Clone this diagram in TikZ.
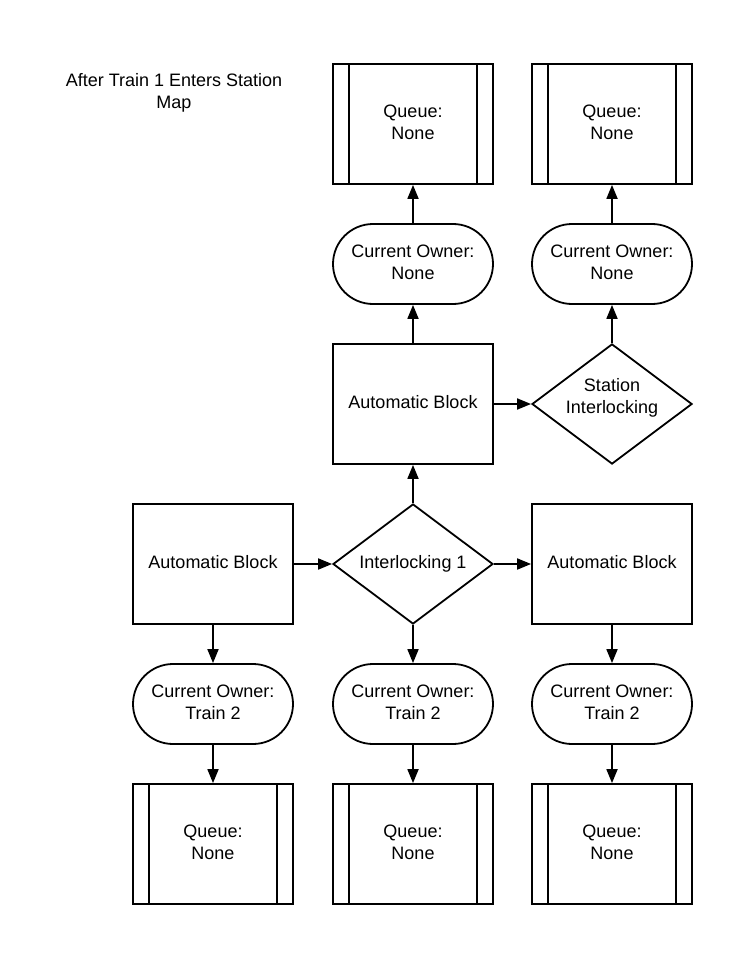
\documentclass[tikz,border=0pt]{standalone}
\usepackage{fontspec}
\setmainfont{Liberation Sans}
\usetikzlibrary{arrows.meta,shapes.geometric,shapes.misc}

\tikzset{
  every node/.style={font=\fontsize{18}{22}\selectfont, align=center},
  blk/.style={draw, rectangle, minimum width=160pt, minimum height=120pt, inner sep=0pt, text depth=4pt},
  queue/.style={blk, path picture={
      \draw ([xshift=16pt]path picture bounding box.north west) -- ([xshift=16pt]path picture bounding box.south west);
      \draw ([xshift=-16pt]path picture bounding box.north east) -- ([xshift=-16pt]path picture bounding box.south east);}},
  owner/.style={draw, rounded rectangle, minimum width=160pt, minimum height=80pt, inner sep=0pt, text depth=4pt},
  ilk/.style={draw, diamond, aspect=1.333, minimum width=160pt, minimum height=120pt, inner sep=0pt},
}

\begin{document}
\begin{tikzpicture}[x=1pt,y=-1pt,line width=1.8pt,>={Triangle[length=14pt,width=11pt]}]
    \useasboundingbox (0,0) rectangle (746,968);

    \node (title) at (174,93) {After Train 1 Enters Station\\Map};

    % top part
    \node[queue] (queue_mid) at (413,124) {Queue:\\None};
    \node[queue] (queue_stn) at (612,124) {Queue:\\None};
    \node[owner] (owner_mid) at (413,264) {Current Owner:\\None};
    \node[owner] (owner_stn) at (612,264) {Current Owner:\\None};
    \node[blk] (block_mid) at (413,404) {Automatic Block};
    \node[ilk, text depth=16pt] (station) at (612,404) {Station\\Interlocking};

    % bottom part
    \node[blk] (block_left) at (213,564) {Automatic Block};
    \node[ilk] (ilk_one) at (413,564) {Interlocking 1};
    \node[blk] (block_right) at (612,564) {Automatic Block};
    \node[owner] (owner_left) at (213,704) {Current Owner:\\Train 2};
    \node[owner] (owner_one) at (413,704) {Current Owner:\\Train 2};
    \node[owner] (owner_right) at (612,704) {Current Owner:\\Train 2};
    \node[queue] (queue_left) at (213,844) {Queue:\\None};
    \node[queue] (queue_one) at (413,844) {Queue:\\None};
    \node[queue] (queue_right) at (612,844) {Queue:\\None};

    \draw[->] (owner_mid) -- (queue_mid);
    \draw[->] (owner_stn) -- (queue_stn);
    \draw[->] (block_mid) -- (owner_mid);
    \draw[->] (station) -- (owner_stn);
    \draw[->] (block_mid) -- (station);
    \draw[->] (ilk_one) -- (block_mid);
    \draw[->] (block_left) -- (ilk_one);
    \draw[->] (ilk_one) -- (block_right);
    \draw[->] (block_left) -- (owner_left);
    \draw[->] (ilk_one) -- (owner_one);
    \draw[->] (block_right) -- (owner_right);
    \draw[->] (owner_left) -- (queue_left);
    \draw[->] (owner_one) -- (queue_one);
    \draw[->] (owner_right) -- (queue_right);

  \end{tikzpicture}
\end{document}
